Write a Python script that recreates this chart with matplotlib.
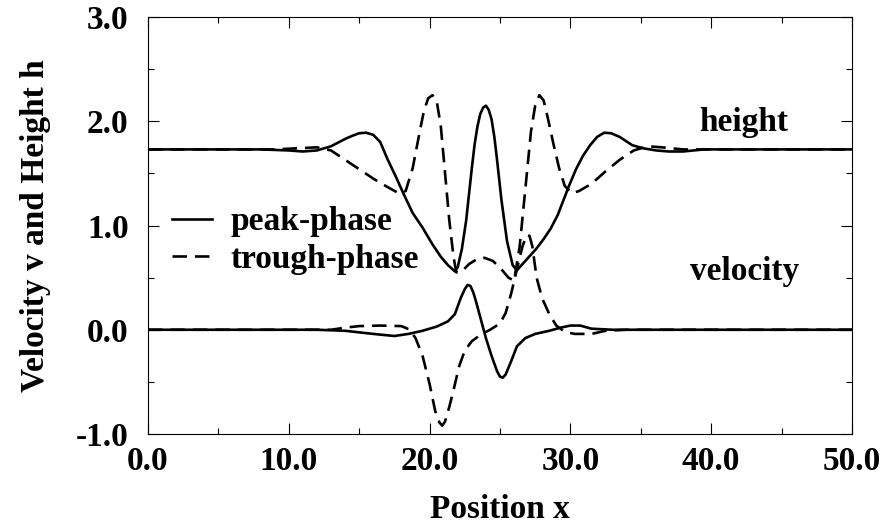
import matplotlib
matplotlib.use("Agg")
from matplotlib import pyplot as plt
from matplotlib.ticker import MultipleLocator, FormatStrFormatter

plt.rcParams['font.family'] = 'Liberation Serif'
plt.rcParams['font.weight'] = 'bold'

# height, peak-phase (solid)
h_peak_x = [0, 8, 10, 11, 12, 13, 14, 14.5, 15.0, 15.5, 16.0, 16.5, 17.0, 17.6, 18.2,
            18.8, 19.5, 20.2, 20.8, 21.3, 21.8, 22.0, 22.3, 22.6, 23.0, 23.2, 23.4,
            23.6, 23.8, 24.0, 24.2, 24.4, 24.6, 24.8, 25.1, 25.5, 25.9, 26.2, 26.6,
            27.0, 27.6, 28.1, 28.6, 29.1, 29.5, 29.9, 30.4, 30.9, 31.4, 31.9, 32.4,
            32.9, 33.5, 34.4, 35.2, 36.1, 37.0, 38.0, 39.5, 50]
h_peak_y = [1.73, 1.73, 1.72, 1.71, 1.72, 1.76, 1.83, 1.86, 1.885, 1.89, 1.87, 1.80, 1.64, 1.47, 1.29,
            1.12, 0.98, 0.82, 0.70, 0.62, 0.56, 0.60, 0.78, 1.05, 1.55, 1.78, 1.95,
            2.07, 2.13, 2.15, 2.11, 2.02, 1.85, 1.62, 1.25, 0.85, 0.62, 0.57, 0.63,
            0.69, 0.78, 0.87, 0.97, 1.10, 1.24, 1.38, 1.54, 1.67, 1.77, 1.85, 1.89,
            1.885, 1.85, 1.77, 1.74, 1.72, 1.71, 1.71, 1.73, 1.73]

# height, trough-phase (dashed)
h_trough_x = [0, 9, 10.5, 12, 13, 14, 15, 16, 17, 17.8, 18.3, 18.8, 19.3, 19.6, 19.9,
              20.2, 20.5, 20.8, 21.1, 21.4, 21.7, 21.9, 22.3, 22.8, 23.4, 23.9, 24.5,
              25.1, 25.6, 26.0, 26.4, 26.8, 27.2, 27.5, 27.8, 28.1, 28.4, 28.8, 29.2,
              29.6, 30.1, 30.6, 31.5, 32.5, 33.5, 34.5, 35.5, 36.5, 38, 50]
h_trough_y = [1.73, 1.73, 1.74, 1.75, 1.72, 1.63, 1.54, 1.45, 1.37, 1.31, 1.33, 1.55, 1.90, 2.10, 2.22,
              2.25, 2.20, 1.95, 1.50, 1.05, 0.70, 0.55, 0.56, 0.63, 0.68, 0.69, 0.66,
              0.58, 0.50, 0.47, 0.80, 1.35, 1.90, 2.15, 2.25, 2.20, 2.03, 1.78, 1.55,
              1.38, 1.31, 1.33, 1.40, 1.52, 1.63, 1.72, 1.76, 1.75, 1.73, 1.73]

# velocity, peak-phase (solid)
v_peak_x = [0, 12, 14, 16, 17.5, 18.5, 19.5, 20.5, 21.3, 21.8, 22.2, 22.5, 22.7, 22.9,
            23.1, 23.3, 23.6, 24.0, 24.4, 24.8, 25.0, 25.2, 25.4, 25.8, 26.2, 26.8,
            27.5, 28.5, 29.3, 30.0, 30.7, 31.5, 33, 50]
v_peak_y = [0, 0, -0.01, -0.04, -0.06, -0.04, -0.01, 0.03, 0.08, 0.15, 0.30, 0.39, 0.43, 0.42,
            0.36, 0.27, 0.12, -0.08, -0.25, -0.40, -0.45, -0.46, -0.43, -0.30, -0.16, -0.08,
            -0.04, -0.01, 0.02, 0.04, 0.04, 0.01, 0, 0]

# velocity, trough-phase (dashed)
v_trough_x = [0, 13, 14, 15, 16.5, 18, 18.6, 19.0, 19.5, 20.0, 20.4, 20.7, 20.9, 21.1,
              21.4, 21.7, 22.1, 22.5, 23.0, 23.6, 24.3, 25.0, 25.4, 25.8, 26.2, 26.6,
              26.9, 27.1, 27.3, 27.6, 28.0, 28.5, 29.0, 29.6, 30.3, 31.5, 32.5, 34, 50]
v_trough_y = [0, 0, 0.02, 0.035, 0.04, 0.035, 0.0, -0.08, -0.25, -0.52, -0.78, -0.89, -0.92, -0.88,
              -0.74, -0.58, -0.35, -0.20, -0.11, -0.05, 0.0, 0.06, 0.16, 0.35, 0.58, 0.80,
              0.91, 0.90, 0.80, 0.50, 0.30, 0.15, 0.04, -0.02, -0.04, -0.04, -0.01, 0, 0]

fig = plt.figure(figsize=(8.85, 5.27), dpi=100)
ax = fig.add_axes([0.1672, 0.1765, 0.7955, 0.7912])

dash = (5.5, 3)
lw = 1.9
ax.plot(h_peak_x, h_peak_y, color='black', lw=lw, label='peak-phase')
ax.plot(h_trough_x, h_trough_y, color='black', lw=lw, dashes=dash, label='trough-phase')
ax.plot(v_peak_x, v_peak_y, color='black', lw=lw)
ax.plot(v_trough_x, v_trough_y, color='black', lw=lw, dashes=dash)

ax.set_xlim(0, 50)
ax.set_ylim(-1, 3)
ax.xaxis.set_major_locator(MultipleLocator(10))
ax.xaxis.set_minor_locator(MultipleLocator(5))
ax.yaxis.set_major_locator(MultipleLocator(1))
ax.yaxis.set_minor_locator(MultipleLocator(0.5))
ax.xaxis.set_major_formatter(FormatStrFormatter('%.1f'))
ax.yaxis.set_major_formatter(FormatStrFormatter('%.1f'))
ax.tick_params(which='both', direction='in', top=True, right=True, width=0.8,
               labelsize=24)
ax.tick_params(axis='x', which='major', pad=9)
ax.tick_params(axis='y', which='major', pad=14)
ax.tick_params(which='major', length=8)
ax.tick_params(which='minor', length=4.5)
for s in ax.spines.values():
    s.set_linewidth(0.8)

ax.set_xlabel('Position x', fontsize=24, fontweight='bold', labelpad=12)
ax.set_ylabel('Velocity v and Height h', fontsize=24, fontweight='bold', labelpad=18)

ax.text(42.3, 1.99, 'height', fontsize=24, fontweight='bold', ha='center', va='center')
ax.text(42.4, 0.56, 'velocity', fontsize=24, fontweight='bold', ha='center', va='center')

ax.legend(loc='upper left', bbox_to_anchor=(0.015, 0.578), frameon=False, fontsize=24,
          handlelength=1.2, handletextpad=0.55, labelspacing=0.2, borderaxespad=0)

fig.savefig('out.png', dpi=100)
